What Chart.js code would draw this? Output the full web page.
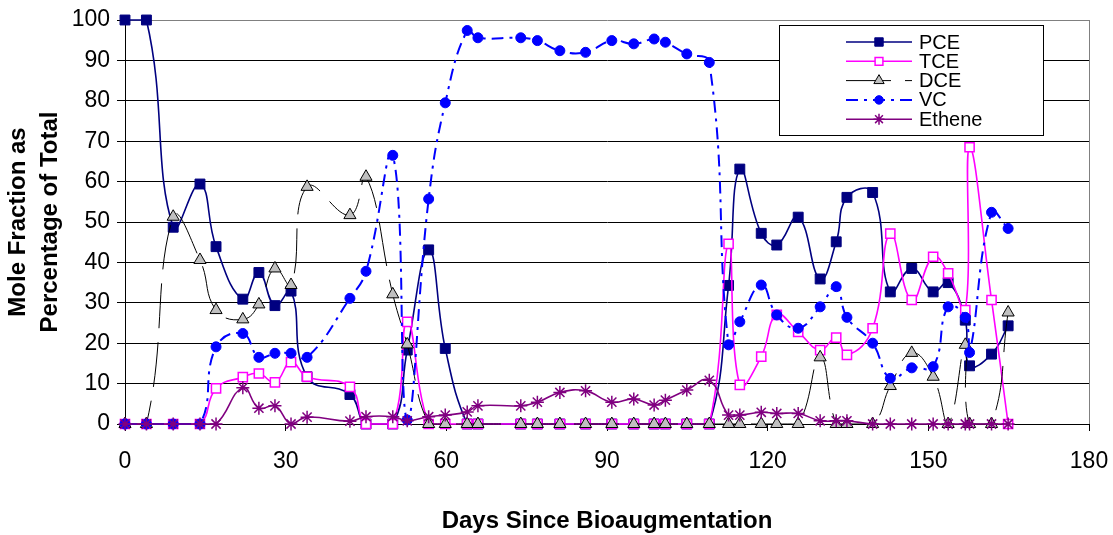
<!DOCTYPE html>
<html>
<head>
<meta charset="utf-8">
<script src="https://cdn.jsdelivr.net/npm/chart.js@4.4.1/dist/chart.umd.min.js"></script>
<style>
  html, body { margin: 0; padding: 0; background: #fff; }
</style>
</head>
<body>
<canvas id="myChart" width="1113" height="535"></canvas>
<script>
// sampling days
const days = [0, 4, 9, 14, 17, 22, 25, 28, 31, 34, 42, 45, 50, 52.7, 56.7,
  59.8, 63.9, 65.9, 73.9, 77, 81.2, 86, 90.9, 95, 98.8, 100.9, 104.9, 109.1,
  112.7, 114.8, 118.8, 121.7, 125.7, 129.8, 132.8, 134.8, 139.6, 142.9, 146.9,
  150.9, 153.7, 156.9, 157.7, 161.8, 164.9];

// mole fraction (% of total) per compound
const pce = [100, 100, 48.7, 59.4, 43.9, 30.9, 37.5, 29.3, 32.9, 11.7, 7.3, 0, 0,
  18.3, 43.1, 18.7, 0, 0, 0, 0, 0, 0, 0, 0, 0, 0, 0, 0, 34.3, 63.1, 47.2, 44.3,
  51.2, 35.9, 45.1, 56.1, 57.3, 32.7, 38.5, 32.7, 35, 25.7, 14.4, 17.3, 24.3];
const tce = [0, 0, 0, 0, 8.8, 11.6, 12.5, 10.3, 15.3, 11.7, 9.2, 0, 0, 25.3, 0,
  0, 0, 0, 0, 0, 0, 0, 0, 0, 0, 0, 0, 0, 44.6, 9.7, 16.7, 27, 22.8, 18.3, 21.4,
  17.1, 23.7, 47.1, 30.7, 41.4, 37.3, 28.2, 68.5, 30.7, 0];
const dce = [0, 0, 51.3, 40.6, 28.2, 25.9, 29.6, 38.5, 34.4, 58.7, 51.7, 61.2,
  32.1, 19.7, 0, 0, 0, 0, 0, 0, 0, 0, 0, 0, 0, 0, 0, 0, 0, 0, 0, 0, 0, 16.5, 0,
  0, 0, 9.4, 17.6, 11.7, 0, 19.6, 0, 0, 27.6];
const vc = [0, 0, 0, 0, 19.1, 22.4, 16.5, 17.5, 17.5, 16.5, 31.1, 37.8, 66.5, 1,
  55.7, 79.5, 97.4, 95.6, 95.6, 94.9, 92.4, 92, 94.9, 94.1, 95.3, 94.5, 91.6,
  89.5, 19.6, 25.3, 34.4, 27, 23.7, 29, 34, 26.4, 20, 11.3, 13.9, 14.2, 29,
  26.4, 17.7, 52.4, 48.4];
const ethene = [0, 0, 0, 0, 0, 9, 3.9, 4.5, 0, 1.7, 0.7, 1.8, 1.8, 0.8, 1.8, 2.2,
  3, 4.5, 4.5, 5.4, 7.8, 8.2, 5.4, 6.2, 4.7, 5.9, 8.4, 10.8, 2.2, 2.2, 2.9, 2.6,
  2.6, 0.8, 0.8, 0.8, 0, 0, 0, 0, 0, 0, 0, 0, 0];

const FONT = "'Liberation Sans', Arial, sans-serif";

const toPoints = (vals) => vals.map((v, i) => ({ x: days[i], y: v }));

// excel-ish boxed legend, line sample with the marker in the middle
const boxLegend = {
  id: "boxLegend",
  afterDraw(chart) {
    const ctx = chart.ctx;
    ctx.save();
    ctx.fillStyle = "#fff";
    ctx.strokeStyle = "#000";
    ctx.lineWidth = 1;
    ctx.fillRect(779.5, 25.5, 264, 110);
    ctx.strokeRect(779.5, 25.5, 264, 110);
    chart.data.datasets.forEach((ds, i) => {
      const y = 42 + i * 19.3;
      ctx.setLineDash(ds.borderDash || []);
      ctx.strokeStyle = ds.borderColor;
      ctx.lineWidth = ds.borderWidth;
      ctx.beginPath();
      ctx.moveTo(846, y);
      ctx.lineTo(912, y);
      ctx.stroke();
      ctx.setLineDash([]);
      ctx.fillStyle = ds.pointBackgroundColor;
      ctx.strokeStyle = ds.pointBorderColor;
      ctx.lineWidth = ds.pointBorderWidth;
      Chart.helpers.drawPoint(ctx, {
        pointStyle: ds.pointStyle,
        radius: ds.pointRadius * 0.85,
        rotation: 0,
        borderWidth: ds.pointBorderWidth,
      }, 879, y);
      ctx.fillStyle = "#000";
      ctx.font = "20px " + FONT;
      ctx.textBaseline = "middle";
      ctx.textAlign = "left";
      ctx.fillText(ds.label, 919, y + 1);
    });
    ctx.restore();
  },
};

// grey plot-area border on the right
const plotBorder = {
  id: "plotBorder",
  beforeDatasetsDraw(chart) {
    const { ctx, chartArea } = chart;
    ctx.save();
    ctx.strokeStyle = "#808080";
    ctx.lineWidth = 1;
    ctx.beginPath();
    ctx.moveTo(Math.round(chartArea.right) + 0.5, chartArea.top);
    ctx.lineTo(Math.round(chartArea.right) + 0.5, chartArea.bottom);
    ctx.stroke();
    ctx.restore();
  },
};

const ctx = document.getElementById("myChart").getContext("2d");

const myChart = new Chart(ctx, {
  type: "line",
  data: {
    datasets: [
      {
        label: "PCE",
        data: toPoints(pce),
        borderColor: "#000080",
        borderWidth: 1.6,
        pointStyle: "rect",
        pointRadius: 7,
        pointBackgroundColor: "#000080",
        pointBorderColor: "#000080",
        pointBorderWidth: 1,
        order: 5,
      },
      {
        label: "TCE",
        data: toPoints(tce),
        borderColor: "#FF00FF",
        borderWidth: 1.6,
        pointStyle: "rect",
        pointRadius: 6.5,
        pointBackgroundColor: "#FFFFFF",
        pointBorderColor: "#FF00FF",
        pointBorderWidth: 1.5,
        order: 4,
      },
      {
        label: "DCE",
        data: toPoints(dce),
        borderColor: "#000000",
        borderWidth: 1,
        borderDash: [45, 14],
        pointStyle: "triangle",
        pointRadius: 7,
        pointBackgroundColor: "#C0C0C0",
        pointBorderColor: "#000000",
        pointBorderWidth: 1,
        order: 3,
      },
      {
        label: "VC",
        data: toPoints(vc),
        borderColor: "#0000FF",
        borderWidth: 2,
        borderDash: [12, 6, 3, 6],
        pointStyle: "circle",
        pointRadius: 5,
        pointBackgroundColor: "#0000FF",
        pointBorderColor: "#0000FF",
        pointBorderWidth: 1,
        order: 2,
      },
      {
        label: "Ethene",
        data: toPoints(ethene),
        borderColor: "#800080",
        borderWidth: 1.6,
        pointStyle: "star",
        pointRadius: 6.5,
        pointBackgroundColor: "#800080",
        pointBorderColor: "#800080",
        pointBorderWidth: 1.5,
        order: 1,
      },
    ],
  },
  options: {
    responsive: false,
    devicePixelRatio: 1,
    animation: false,
    clip: false,
    datasets: { line: { tension: 0.45, clip: false, fill: false } },
    layout: { padding: { left: 0, right: 24, top: 20, bottom: 0 } },
    plugins: {
      legend: { display: false },
      tooltip: { enabled: false },
    },
    scales: {
      x: {
        type: "linear",
        min: 0,
        max: 180,
        afterFit: (scale) => {
          scale.height = 111;
          scale.paddingLeft = 0;
          scale.paddingRight = 0;
        },
        ticks: {
          stepSize: 30,
          color: "#000",
          padding: 17,
          font: { family: FONT, size: 23 },
          maxRotation: 0,
        },
        grid: { drawOnChartArea: false, tickLength: 7, tickColor: "#000" },
        border: { color: "#000", width: 1 },
        title: {
          display: true,
          text: "Days Since Bioaugmentation",
          color: "#000",
          font: { family: FONT, size: 24, weight: "bold", lineHeight: 1.1 },
          padding: { top: 0, bottom: 0 },
        },
      },
      y: {
        min: 0,
        max: 100,
        afterFit: (scale) => {
          scale.width = 125;
          scale.paddingTop = 0;
          scale.paddingBottom = 0;
        },
        ticks: {
          stepSize: 10,
          color: "#000",
          padding: 7,
          font: { family: FONT, size: 23 },
        },
        grid: {
          color: (c) => (c.tick && c.tick.value === 100 ? "#808080" : "#000"),
          tickColor: "#000",
          tickLength: 8,
          lineWidth: 1,
        },
        border: { color: "#000", width: 1 },
        title: {
          display: true,
          text: ["Mole Fraction as", "Percentage of Total"],
          color: "#000",
          font: { family: FONT, size: 24, weight: "bold", lineHeight: 1.32 },
          padding: { top: 3, bottom: 0 },
        },
      },
    },
  },
  plugins: [plotBorder, boxLegend],
});
</script>
</body>
</html>
